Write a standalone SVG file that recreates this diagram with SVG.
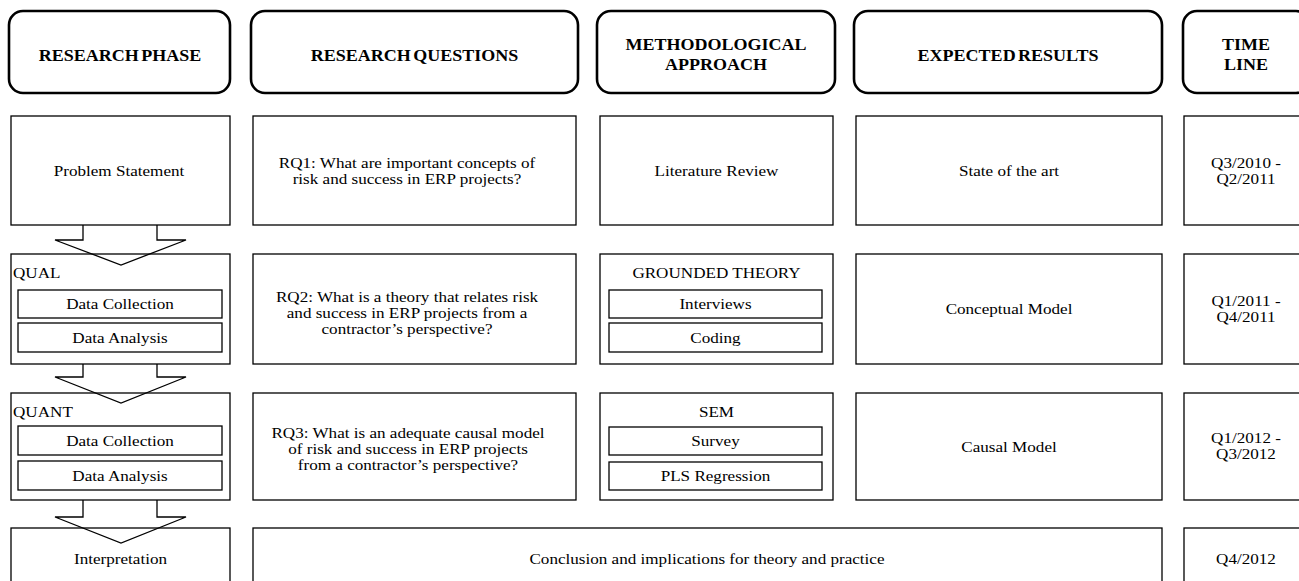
<svg xmlns="http://www.w3.org/2000/svg" width="1299" height="581" viewBox="0 0 1299 581">
<style>
.hd{fill:#fff;stroke:#000;stroke-width:2.6}
.bx{fill:#fff;stroke:#000;stroke-width:1.3}
.ib{fill:none;stroke:#000;stroke-width:1.3}
.ar{fill:none;stroke:#000;stroke-width:1.3;stroke-linejoin:miter}
text{font-family:"Liberation Serif","Times New Roman",serif;fill:#000}
.h{font-size:17px;font-weight:bold;text-anchor:middle;word-spacing:-2px}
.t{font-size:15px;text-anchor:middle}
.l{font-size:15px;text-anchor:start}
</style>
<rect width="1299" height="581" fill="#fff"/>

<g id="headers">
<g id="h-phase"><rect class="hd" x="9" y="11" width="221" height="82" rx="14"/><text class="h" transform="translate(120 61) scale(1.06 1)">RESEARCH PHASE</text></g>
<g id="h-questions"><rect class="hd" x="251" y="11" width="327" height="82" rx="14"/><text class="h" transform="translate(414.5 61) scale(1.06 1)">RESEARCH QUESTIONS</text></g>
<g id="h-method"><rect class="hd" x="597" y="11" width="238" height="82" rx="14"/><text class="h" transform="translate(716 50) scale(1.06 1)"><tspan x="0" y="0">METHODOLOGICAL</tspan><tspan x="0" y="20">APPROACH</tspan></text></g>
<g id="h-results"><rect class="hd" x="854" y="11" width="308" height="82" rx="14"/><text class="h" transform="translate(1008 61) scale(1.06 1)">EXPECTED RESULTS</text></g>
<g id="h-time"><rect class="hd" x="1183" y="11" width="127" height="82" rx="14"/><text class="h" transform="translate(1246 50) scale(1.06 1)"><tspan x="0" y="0">TIME</tspan><tspan x="0" y="20">LINE</tspan></text></g>
</g>

<g id="problem-statement"><rect class="bx" x="11" y="116" width="219" height="109"/><text class="t" transform="translate(119 176) scale(1.14 1)">Problem Statement</text></g>
<g id="rq1"><rect class="bx" x="253" y="116" width="323" height="109"/><text class="t" transform="translate(407 168) scale(1.14 1)"><tspan x="0" y="0">RQ1: What are important concepts of</tspan><tspan x="0" y="16">risk and success in ERP projects?</tspan></text></g>
<g id="literature-review"><rect class="bx" x="600" y="116" width="233" height="109"/><text class="t" transform="translate(716.5 176) scale(1.14 1)">Literature Review</text></g>
<g id="state-of-art"><rect class="bx" x="856" y="116" width="306" height="109"/><text class="t" transform="translate(1009 176) scale(1.14 1)">State of the art</text></g>
<g id="time-1"><rect class="bx" x="1184" y="116" width="124" height="109"/><text class="t" transform="translate(1246 168) scale(1.14 1)"><tspan x="0" y="0">Q3/2010 -</tspan><tspan x="0" y="16">Q2/2011</tspan></text></g>

<g id="qual"><rect class="bx" x="11" y="254" width="219" height="110"/><text class="l" transform="translate(13 278) scale(1.14 1)">QUAL</text>
<rect class="ib" x="18" y="290" width="204" height="28"/><text class="t" transform="translate(120 309) scale(1.14 1)">Data Collection</text>
<rect class="ib" x="18" y="323" width="204" height="29"/><text class="t" transform="translate(120 342.5) scale(1.14 1)">Data Analysis</text></g>
<g id="rq2"><rect class="bx" x="253" y="254" width="323" height="110"/><text class="t" transform="translate(407 302) scale(1.14 1)"><tspan x="0" y="0">RQ2: What is a theory that relates risk</tspan><tspan x="0" y="16">and success in ERP projects from a</tspan><tspan x="0" y="32">contractor’s perspective?</tspan></text></g>
<g id="grounded-theory"><rect class="bx" x="600" y="254" width="233" height="110"/><text class="t" transform="translate(716.5 278) scale(1.14 1)">GROUNDED THEORY</text>
<rect class="ib" x="609" y="290" width="213" height="28"/><text class="t" transform="translate(715.5 309) scale(1.14 1)">Interviews</text>
<rect class="ib" x="609" y="323" width="213" height="29"/><text class="t" transform="translate(715.5 342.5) scale(1.14 1)">Coding</text></g>
<g id="conceptual-model"><rect class="bx" x="856" y="254" width="306" height="110"/><text class="t" transform="translate(1009 314) scale(1.14 1)">Conceptual Model</text></g>
<g id="time-2"><rect class="bx" x="1184" y="254" width="124" height="110"/><text class="t" transform="translate(1246 306) scale(1.14 1)"><tspan x="0" y="0">Q1/2011 -</tspan><tspan x="0" y="16">Q4/2011</tspan></text></g>

<g id="quant"><rect class="bx" x="11" y="393" width="219" height="107"/><text class="l" transform="translate(13 417) scale(1.14 1)">QUANT</text>
<rect class="ib" x="18" y="426" width="204" height="29"/><text class="t" transform="translate(120 445.5) scale(1.14 1)">Data Collection</text>
<rect class="ib" x="18" y="461" width="204" height="29"/><text class="t" transform="translate(120 480.5) scale(1.14 1)">Data Analysis</text></g>
<g id="rq3"><rect class="bx" x="253" y="393" width="323" height="107"/><text class="t" transform="translate(408 438) scale(1.14 1)"><tspan x="0" y="0">RQ3: What is an adequate causal model</tspan><tspan x="0" y="16">of risk and success in ERP projects</tspan><tspan x="0" y="32">from a contractor’s perspective?</tspan></text></g>
<g id="sem"><rect class="bx" x="600" y="393" width="233" height="107"/><text class="t" transform="translate(716.5 417) scale(1.14 1)">SEM</text>
<rect class="ib" x="609" y="427" width="213" height="28"/><text class="t" transform="translate(715.5 446) scale(1.14 1)">Survey</text>
<rect class="ib" x="609" y="462" width="213" height="28"/><text class="t" transform="translate(715.5 481) scale(1.14 1)">PLS Regression</text></g>
<g id="causal-model"><rect class="bx" x="856" y="393" width="306" height="107"/><text class="t" transform="translate(1009 452) scale(1.14 1)">Causal Model</text></g>
<g id="time-3"><rect class="bx" x="1184" y="393" width="124" height="107"/><text class="t" transform="translate(1246 443) scale(1.14 1)"><tspan x="0" y="0">Q1/2012 -</tspan><tspan x="0" y="16">Q3/2012</tspan></text></g>

<g id="interpretation"><rect class="bx" x="11" y="528" width="219" height="80"/><text class="t" transform="translate(120.5 564) scale(1.14 1)">Interpretation</text></g>
<g id="conclusion"><rect class="bx" x="253" y="528" width="909" height="80"/><text class="t" transform="translate(707 564) scale(1.14 1)">Conclusion and implications for theory and practice</text></g>
<g id="time-4"><rect class="bx" x="1184" y="528" width="124" height="80"/><text class="t" transform="translate(1246 564) scale(1.14 1)">Q4/2012</text></g>

<g id="connectors">
<polyline class="ar" points="83,225 83,240 55,240 121,265 186,240 157,240 157,225"/>
<polyline class="ar" points="83,364 83,377 55,377 121,403 186,377 157,377 157,364"/>
<polyline class="ar" points="83,500 83,517 55,517 121,543 186,517 157,517 157,500"/>
</g>
</svg>
